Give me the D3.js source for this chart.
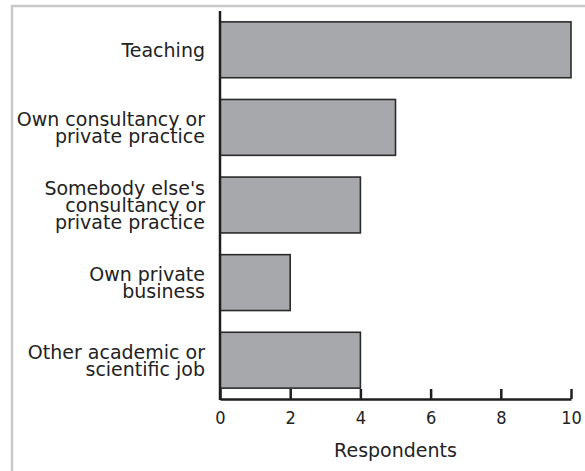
<!DOCTYPE html>
<html>
<head>
<meta charset="utf-8">
<script src="https://cdn.jsdelivr.net/npm/d3@7"></script>
<style>
  html, body { margin: 0; padding: 0; background: #fff; }
  svg { display: block; }
  .cat-label { font-family: "DejaVu Sans", sans-serif; font-size: 19px; fill: #222; }
  .tick-label { font-family: "Liberation Sans Narrow", "DejaVu Sans Condensed", sans-serif; font-stretch: condensed; font-size: 18px; fill: #222; }
  .axis-title { font-family: "DejaVu Sans", sans-serif; font-size: 19px; fill: #222; }
</style>
</head>
<body>
<div id="chart"></div>
<script>
// job categories, top to bottom (\n = line break in the label)
var categories = [
	"Teaching",
	"Own consultancy or\nprivate practice",
	"Somebody else's\nconsultancy or\nprivate practice",
	"Own private\nbusiness",
	"Other academic or\nscientific job"
];
var respondents = [10, 5, 4, 2, 4];
var xTicks = [0, 2, 4, 6, 8, 10];
var xTitle = "Respondents";

var width = 585, height = 471;
var margin = { left: 220, right: 14, top: 11, bottom: 72 };

var svg = d3.select("#chart").append("svg")
	.attr("width", width)
	.attr("height", height);

// light frame round the figure (runs off right/bottom edges)
svg.append("rect")
	.attr("x", 12)
	.attr("y", 6)
	.attr("width", 700)
	.attr("height", 600)
	.attr("fill", "none")
	.attr("stroke", "#c9c9c9")
	.attr("stroke-width", 2.5);

var x = d3.scaleLinear()
	.domain([0, 10])
	.range([margin.left, width - margin.right]);

var y = d3.scaleBand()
	.domain(categories)
	.range([margin.top, height - margin.bottom])
	.paddingInner(0.28)
	.paddingOuter(0.14);

// bars
svg.selectAll(".bar")
	.data(categories)
	.enter()
	.append("rect")
	.attr("class", "bar")
	.attr("x", x(0))
	.attr("y", function(d) { return y(d); })
	.attr("width", function(d, i) { return x(respondents[i]) - x(0); })
	.attr("height", y.bandwidth())
	.attr("fill", "#a7a8ab")
	.attr("stroke", "#2b2b2b")
	.attr("stroke-width", 1.6);

// category labels, multi-line, centred on each bar
var lineH = 17;
svg.selectAll(".cat-label")
	.data(categories)
	.enter()
	.append("text")
	.attr("class", "cat-label")
	.attr("text-anchor", "end")
	.each(function(d) {
		var lines = d.split("\n");
		var cy = y(d) + y.bandwidth() / 2;
		var t = d3.select(this);
		lines.forEach(function(line, i) {
			t.append("tspan")
				.attr("x", x(0) - 15)
				.attr("y", cy + (i - (lines.length - 1) / 2) * lineH)
				.attr("dy", "0.36em")
				.text(line);
		});
	});

// x axis, ticks pointing up into the plot
var xAxis = d3.axisBottom(x)
	.tickValues(xTicks)
	.tickSizeInner(-10)
	.tickSizeOuter(0)
	.tickPadding(12);

var gx = svg.append("g")
	.attr("transform", "translate(0," + (height - margin.bottom) + ")")
	.call(xAxis);

gx.select(".domain")
	.attr("stroke", "#1e1e1e")
	.attr("stroke-width", 2.5);
gx.selectAll(".tick line")
	.attr("stroke", "#1e1e1e")
	.attr("stroke-width", 2.5);
gx.selectAll(".tick text")
	.attr("class", "tick-label")
	.attr("font-family", null)
	.attr("font-size", null)
	.attr("fill", null);
gx.attr("font-family", null).attr("font-size", null);

// y axis line
svg.append("line")
	.attr("x1", x(0))
	.attr("x2", x(0))
	.attr("y1", margin.top)
	.attr("y2", height - margin.bottom + 1)
	.attr("stroke", "#1e1e1e")
	.attr("stroke-width", 2.5);

svg.append("text")
	.attr("class", "axis-title")
	.attr("text-anchor", "middle")
	.attr("x", (x(0) + x(10)) / 2)
	.attr("y", height - 14)
	.text(xTitle);
</script>
</body>
</html>
